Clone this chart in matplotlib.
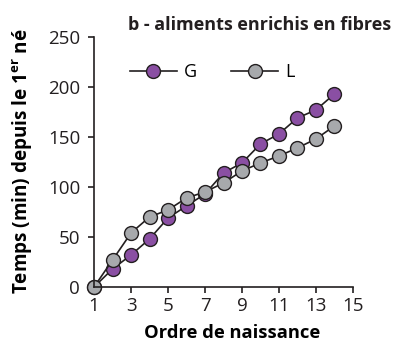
import matplotlib
matplotlib.use("Agg")
import matplotlib.pyplot as plt

plt.rcParams['font.family'] = ['Open Sans', 'DejaVu Sans']

# birth order
order = [1, 2, 3, 4, 5, 6, 7, 8, 9, 10, 11, 12, 13, 14]
# time (min) since first born
g_time = [0, 18, 32, 48, 69, 81, 93, 114, 124, 143, 153, 169, 177, 193]
l_time = [0, 27, 54, 70, 77, 89, 95, 104, 116, 124, 131, 139, 148, 161]

x_ticks = [1, 3, 5, 7, 9, 11, 13, 15]
y_ticks = [0, 50, 100, 150, 200, 250]

fig = plt.figure(figsize=(3.97, 3.42), dpi=100)
ax = fig.add_axes([0.237, 0.161, 0.652, 0.731])

ax.plot(order, g_time, '-o', color='#231f20', lw=1.2, ms=10,
        mfc='#8a4fa3', mec='#231f20', mew=1.0, label='G', clip_on=False)
ax.plot(order, l_time, '-o', color='#231f20', lw=1.2, ms=10,
        mfc='#a7a9ac', mec='#231f20', mew=1.0, label='L', clip_on=False)

ax.set_xlim(1, 15)
ax.set_ylim(0, 250)
ax.set_xticks(x_ticks)
ax.set_yticks(y_ticks)
ax.tick_params(direction='out', length=4, width=1.2, labelsize=13.5,
               colors='#231f20')
ax.tick_params(axis='x', pad=3)
ax.tick_params(axis='y', pad=6)
for s in ['top', 'right']:
    ax.spines[s].set_visible(False)
for s in ['left', 'bottom']:
    ax.spines[s].set_linewidth(1.2)
    ax.spines[s].set_color('#231f20')

ax.set_xlabel('Ordre de naissance', fontsize=13.2, fontweight='bold')
ax.xaxis.set_label_coords(0.535, -0.148)
ax.set_ylabel('Temps (min) depuis le 1$^{\\mathregular{er}}$ né', fontsize=13.6,
              fontweight='bold')
ax.yaxis.set_label_coords(-0.228, 0.503)
fig.text(0.985, 0.912, 'b - aliments enrichis en fibres', ha='right',
         fontsize=13, fontweight='bold', color='#231f20')

ax.legend(loc='upper left', bbox_to_anchor=(0.075, 0.96), ncol=2, frameon=False,
          fontsize=13, handlelength=2.6, columnspacing=1.9, handletextpad=0.4)

fig.savefig('out.png', dpi=100)
